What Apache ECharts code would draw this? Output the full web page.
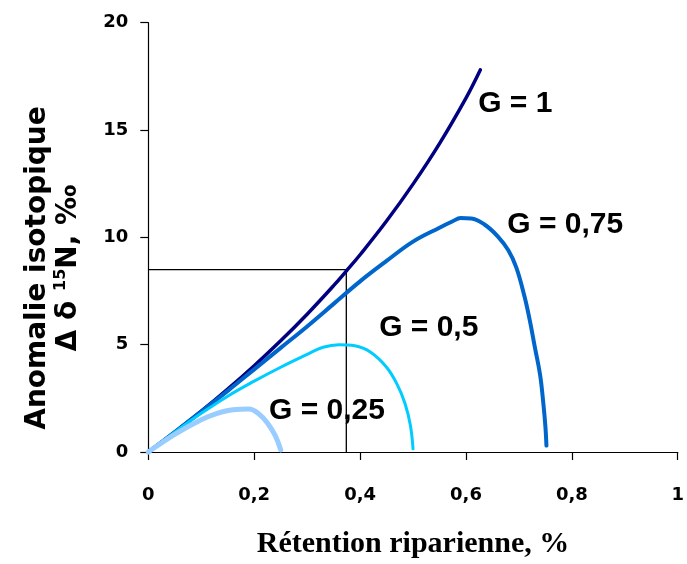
<!DOCTYPE html>
<html><head><meta charset="utf-8">
<script src="https://cdn.jsdelivr.net/npm/echarts@6/dist/echarts.min.js"></script>
<style>html,body{margin:0;padding:0;background:#fff}#c{width:687px;height:564px}</style>
</head><body><div id="c"></div>
<script>
// Curve labels
const curveNames = ['G = 1', 'G = 0,75', 'G = 0,5', 'G = 0,25'];
// x = Rétention riparienne, y = Anomalie isotopique
const curveG100 = [[0,0],[0.05,0.93],[0.1,1.9],[0.15,2.93],[0.2,4.02],[0.25,5.18],[0.3,6.42],[0.35,7.75],[0.375,8.46],[0.4,9.19],[0.45,10.76],[0.5,12.48],[0.55,14.37],[0.6,16.49],[0.627,17.8]];
const curveG075 = [[0,0],[0.05,0.93],[0.1,1.88],[0.15,2.85],[0.2,3.85],[0.25,4.85],[0.3,5.85],[0.35,6.9],[0.4,7.95],[0.45,8.9],[0.5,9.8],[0.55,10.45],[0.575,10.75],[0.59,10.9],[0.61,10.88],[0.635,10.6],[0.66,10.05],[0.68,9.4],[0.695,8.6],[0.71,7.3],[0.72,6.2],[0.73,4.9],[0.74,3.6],[0.746,2.3],[0.75,1.2],[0.752,0.3]];
const curveG050 = [[0,0],[0.05,0.92],[0.1,1.8],[0.15,2.6],[0.2,3.3],[0.25,3.95],[0.3,4.55],[0.33,4.88],[0.36,5.0],[0.39,4.95],[0.42,4.65],[0.45,3.95],[0.47,3.15],[0.485,2.25],[0.495,1.25],[0.5,0.15]];
const curveG025 = [[0,0],[0.05,0.82],[0.1,1.5],[0.13,1.8],[0.16,1.97],[0.19,2.0],[0.21,1.75],[0.225,1.35],[0.24,0.75],[0.25,0.1]];
// reference reading lines (R = 0.374, anomaly = 8.5)
const readingLine = [[0,8.5],[0.374,8.5],[0.374,0]];
// anchors for curve labels, in data units
const labelAnchors = [[0.623,16.21],[0.678,10.57],[0.436,5.79],[0.228,1.93]];
const xTitle = 'Rétention riparienne, %';
const yTitleLine1 = 'Anomalie isotopique';

const colors = ['#000080', '#0066CC', '#00CCFF', '#99CCFF'];
const widths = [3.5, 4, 3, 5];
const curves = [curveG100, curveG075, curveG050, curveG025];

const chart = echarts.init(document.getElementById('c'), null, {renderer: 'canvas'});
const tickFont = {fontFamily: 'DejaVu Sans', fontWeight: 'bold', fontSize: 18, color: '#000'};
const series = [{
  type: 'line', data: readingLine, symbol: 'none', clip: false, z: 1,
  lineStyle: {color: '#000', width: 1.3}, silent: true
}];
curves.forEach((d, i) => series.push({
  name: curveNames[i], type: 'line', data: d, symbol: 'none', smooth: 0.4,
  clip: false, z: 2 + i, lineStyle: {color: colors[i], width: widths[i], cap: 'round', join: 'round'}
}));
labelAnchors.forEach((p, i) => series.push({
  type: 'scatter', data: [p], symbolSize: 0, silent: true, z: 10,
  itemStyle: {opacity: 1},
  label: {show: true, position: 'right', distance: 0, formatter: curveNames[i],
    fontFamily: 'Liberation Sans', fontWeight: 'bold', fontSize: 30, color: '#000', opacity: 1}
}));

chart.setOption({
  animation: false,
  backgroundColor: '#fff',
  grid: {left: 148.3, right: 2.2, top: 22.7, bottom: 110.7, containLabel: false},
  xAxis: {
    type: 'value', min: 0, max: 1, interval: 0.2,
    axisLine: {lineStyle: {color: '#000', width: 1.2}},
    axisTick: {show: true, length: 8, inside: false, lineStyle: {color: '#000', width: 1.2}},
    splitLine: {show: false},
    axisLabel: Object.assign({margin: 34, formatter: v => String(+v.toFixed(1)).replace('.', ',')}, tickFont),
    name: xTitle, nameLocation: 'middle', nameGap: 77,
    nameTextStyle: {fontFamily: 'Liberation Serif', fontWeight: 'bold', fontSize: 30, color: '#000'}
  },
  yAxis: {
    type: 'value', min: 0, max: 20, interval: 5,
    axisLine: {show: true, lineStyle: {color: '#000', width: 1.2}},
    axisTick: {show: true, length: 8, inside: false, lineStyle: {color: '#000', width: 1.2}},
    splitLine: {show: false},
    axisLabel: Object.assign({margin: 20}, tickFont)
  },
  graphic: [{
    type: 'text', x: 53, y: 268, rotation: Math.PI / 2, silent: true,
    style: {
      text: yTitleLine1 + '\n{n|Δ δ }{s|15}{n|N, ‰}',
      align: 'center', verticalAlign: 'middle', lineHeight: 31,
      fontFamily: 'DejaVu Sans', fontWeight: 'bold', fontSize: 28, fill: '#000',
      rich: {
        n: {fontFamily: 'DejaVu Sans', fontWeight: 'bold', fontSize: 28, lineHeight: 31, fill: '#000'},
        s: {fontFamily: 'DejaVu Sans', fontWeight: 'bold', fontSize: 16, lineHeight: 22, verticalAlign: 'top', fill: '#000'}
      }
    }
  }],
  series: series
});
</script></body></html>
